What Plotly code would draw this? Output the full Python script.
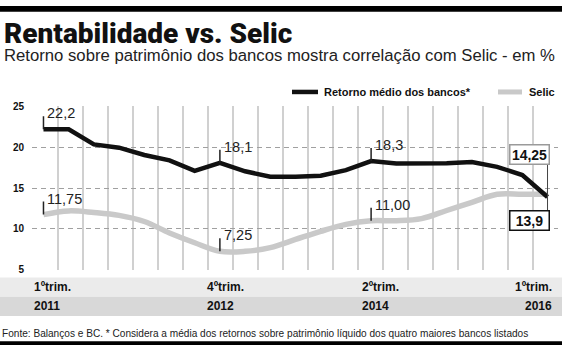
import plotly.graph_objects as go

# ---------------- data ----------------
quarters = ["1T11", "2T11", "3T11", "4T11", "1T12", "2T12", "3T12", "4T12",
            "1T13", "2T13", "3T13", "4T13", "1T14", "2T14", "3T14", "4T14",
            "1T15", "2T15", "3T15", "4T15", "1T16"]
retorno = [22.2, 22.2, 20.35, 19.95, 19.05, 18.4, 17.1, 18.1, 17.05, 16.4, 16.4,
           16.5, 17.2, 18.3, 18.0, 18.0, 18.05, 18.2, 17.6, 16.6, 13.9]
selic = [11.75, 12.2, 12.0, 11.65, 10.9, 9.5, 8.3, 7.25, 7.25, 7.7, 8.7,
         9.7, 10.55, 11.0, 11.0, 11.25, 12.25, 13.25, 14.25, 14.25, 14.25]

label_idx = [0, 7, 13]
retorno_labels = ["22,2", "18,1", "18,3"]
selic_labels = ["11,75", "7,25", "11,00"]
last_retorno_label = "13,9"
last_selic_label = "14,25"

band_idx = [0, 7, 13, 20]
band_trim = ["1ºtrim.", "4ºtrim.", "2ºtrim.", "1ºtrim."]
band_year = ["2011", "2012", "2014", "2016"]

series_names = ["Retorno médio dos bancos*", "Selic"]

# ---------------- layout helpers (styling only) ----------------
W, H = 562, 351
def px(v):
    return v / W
def py(v):
    return 1 - v / H

x_of_px = lambda p: (p - 43) / 25.25
xs = list(range(len(quarters)))

SANS = "Liberation Sans, Arial, sans-serif"
HEAVY = "Roboto, Liberation Sans, sans-serif"

BLACK = "#111111"
GRAY = "#c9c9c9"

fig = go.Figure()
fig.add_trace(go.Scatter(x=xs, y=selic, mode="lines", name=series_names[1],
                         line=dict(color=GRAY, width=5.5, shape="spline", smoothing=1.0),
                         showlegend=False, text=quarters))
fig.add_trace(go.Scatter(x=xs, y=retorno, mode="lines", name=series_names[0],
                         line=dict(color=BLACK, width=4.5, shape="linear"),
                         showlegend=False, text=quarters))

shapes = []
annotations = []

# top and bottom black bars
shapes.append(dict(type="rect", xref="paper", yref="paper", x0=0, x1=1, y0=py(6), y1=1,
                   fillcolor="black", line=dict(width=0), layer="below"))
shapes.append(dict(type="rect", xref="paper", yref="paper", x0=0, x1=1, y0=0, y1=py(347),
                   fillcolor="black", line=dict(width=0), layer="below"))
# bottom bands
shapes.append(dict(type="rect", xref="paper", yref="paper", x0=0, x1=1, y0=py(301), y1=py(281),
                   fillcolor="#ebebeb", line=dict(width=0), layer="below"))
shapes.append(dict(type="rect", xref="paper", yref="paper", x0=0, x1=1, y0=py(321), y1=py(301),
                   fillcolor="#d8d8d8", line=dict(width=0), layer="below"))

band_shift = [-11, -15, -11, 6]
band_anchor = ["left", "left", "left", "right"]
for i, idx in enumerate(band_idx):
    for txt, yy in ((band_trim[i], 291), (band_year[i], 311)):
        annotations.append(dict(x=idx, xref="x", y=py(yy), yref="paper", text=txt,
                                showarrow=False, xanchor=band_anchor[i], yanchor="middle",
                                xshift=band_shift[i],
                                font=dict(family=SANS, size=12, color="#111", weight="bold")))

# value labels with small tick marks
for series, labels in ((retorno, retorno_labels), (selic, selic_labels)):
    for idx, lab in zip(label_idx, labels):
        shapes.append(dict(type="line", xref="x", yref="y", x0=idx, x1=idx,
                           ysizemode="pixel", yanchor=series[idx], y0=0, y1=13,
                           line=dict(color="#222", width=1.5)))
        annotations.append(dict(x=idx, y=series[idx], xref="x", yref="y", text=lab,
                                showarrow=False, xanchor="left", yanchor="middle",
                                xshift=2, yshift=16,
                                font=dict(family=SANS, size=14.5, color="#222")))

last = len(xs) - 1
# connector between the two final boxes
shapes.append(dict(type="line", xref="x", yref="y", x0=last, x1=last,
                   ysizemode="pixel", yanchor=retorno[last], y0=-15, y1=35,
                   line=dict(color="#444", width=1)))
annotations.append(dict(x=last, y=selic[last], xref="x", yref="y", text=last_selic_label,
                        showarrow=False, xanchor="center", yanchor="middle",
                        xshift=-18, yshift=40, bgcolor="white", bordercolor="#9a9a9a",
                        borderwidth=1.5, borderpad=1, width=36,
                        font=dict(family=SANS, size=14, color="#111", weight="bold")))
annotations.append(dict(x=last, y=retorno[last], xref="x", yref="y", text=last_retorno_label,
                        showarrow=False, xanchor="center", yanchor="middle",
                        xshift=-18, yshift=-23, bgcolor="white", bordercolor="#111",
                        borderwidth=1.5, borderpad=1, width=36,
                        font=dict(family=SANS, size=14, color="#111", weight="bold")))

# manual legend
leg_items = [(series_names[0], BLACK, 4.5, 292, 318, 322),
             (series_names[1], GRAY, 5, 498, 522, 527)]
for name, col, lw, lx0, lx1, tx in leg_items:
    shapes.append(dict(type="line", xref="paper", yref="paper", x0=px(lx0), x1=px(lx1),
                       y0=py(89), y1=py(89), line=dict(color=col, width=lw)))
    annotations.append(dict(x=px(tx), y=py(89), xref="paper", yref="paper", text=name,
                            showarrow=False, xanchor="left", yanchor="middle",
                            font=dict(family=SANS, size=11, color="#111", weight="bold")))

# title, subtitle, footer
annotations.append(dict(x=px(2), y=py(28.5), xref="paper", yref="paper",
                        text="Rentabilidade vs. Selic", showarrow=False,
                        xanchor="left", yanchor="middle",
                        font=dict(family=HEAVY, size=28, color="#111", weight=900)))
annotations.append(dict(x=px(2), y=py(51), xref="paper", yref="paper",
                        text="Retorno sobre patrimônio dos bancos mostra correlação com Selic - em %",
                        showarrow=False, xanchor="left", yanchor="middle",
                        font=dict(family=SANS, size=16.7, color="#222")))
annotations.append(dict(x=px(0), y=py(339), xref="paper", yref="paper",
                        text="Fonte: Balanços e BC. * Considera a média dos retornos sobre patrimônio líquido dos quatro maiores bancos listados",
                        showarrow=False, xanchor="left", yanchor="middle",
                        font=dict(family=SANS, size=10.1, color="#222")))

fig.update_layout(
    width=W, height=H, margin=dict(l=0, r=0, t=0, b=0),
    paper_bgcolor="white", plot_bgcolor="white",
    shapes=shapes, annotations=annotations,
    showlegend=False,
    xaxis=dict(domain=[px(32), px(558)], range=[x_of_px(31.5), x_of_px(558.5)],
               showticklabels=False, ticks="", zeroline=False,
               showgrid=True, gridcolor="#d0d0d0", gridwidth=1.5,
               tick0=x_of_px(32), dtick=25.048 / 25.25, tickmode="linear"),
    yaxis=dict(domain=[py(273), py(104)], range=[5, 25], dtick=5, tick0=5,
               showgrid=True, gridcolor="#a0a0a0", gridwidth=1, griddash="5px,4px",
               zeroline=False, ticks="", ticklabelstandoff=7,
               tickfont=dict(family=SANS, size=10, color="#111", weight="bold")),
)

fig.write_html("out.html")
